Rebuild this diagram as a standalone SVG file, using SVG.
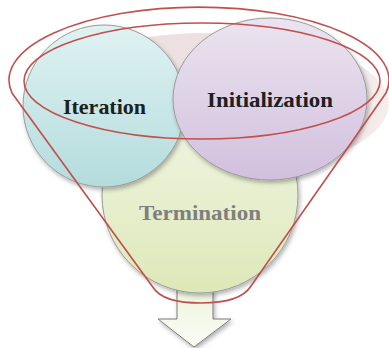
<svg xmlns="http://www.w3.org/2000/svg" width="389" height="348" viewBox="0 0 389 348">
<defs>
<linearGradient id="gIter" x1="0" y1="0" x2="0" y2="1"><stop offset="0" stop-color="#e0f2f2"/><stop offset="1" stop-color="#b4dcdd"/></linearGradient>
<linearGradient id="gInit" x1="0" y1="0" x2="0" y2="1"><stop offset="0" stop-color="#ebe4ef"/><stop offset="1" stop-color="#d2c0de"/></linearGradient>
<linearGradient id="gTerm" x1="0" y1="0" x2="0" y2="1"><stop offset="0" stop-color="#f2f6e6"/><stop offset="1" stop-color="#dde8b8"/></linearGradient>
<linearGradient id="gArrow" x1="0" y1="0" x2="0" y2="1"><stop offset="0" stop-color="#eef4dd"/><stop offset="1" stop-color="#fbfdf6"/></linearGradient>
<linearGradient id="gBack" x1="0" y1="0" x2="1" y2="0"><stop offset="0" stop-color="#ecdede"/><stop offset="0.85" stop-color="#efe3e3"/><stop offset="1" stop-color="#f6eeee"/></linearGradient>
<filter id="sh" x="-20%" y="-20%" width="140%" height="140%"><feDropShadow dx="1.5" dy="2.5" stdDeviation="2" flood-color="#000" flood-opacity="0.3"/></filter>
</defs>
<style>
.node{stroke:#9a9a9a;stroke-width:1;filter:url(#sh)}
.lbl{font-family:"Liberation Serif","Times New Roman",serif;font-weight:bold;font-size:22px;text-anchor:middle}
.dark{fill:#202020}
.gray{fill:#7f7f7f}
.rim{fill:none;stroke:#c0504d;stroke-width:1.6}
</style>
<ellipse cx="208" cy="104" rx="181" ry="71" fill="url(#gBack)"/>
<g id="connectors">
<polygon points="177,290 213,290 213,319 231,319 194,347 158,319 177,319" fill="url(#gArrow)" stroke="#7a7a7a" stroke-width="1" filter="url(#sh)"/>
</g>
<g id="termination">
<circle class="node" cx="200" cy="195" r="98" fill="url(#gTerm)"/>
</g>
<g id="iteration">
<ellipse class="node" cx="104" cy="106" rx="81" ry="81" fill="url(#gIter)"/>
</g>
<g id="initialization">
<ellipse class="node" cx="270" cy="99" rx="97" ry="81" fill="url(#gInit)"/>
</g>
<g id="funnel">
<path d="M12,93 A190,73 0 1 1 386,93 L251,286 C243,299 225,303 201,303 C177,303 160,299 152,286 Z" fill="#ffffff" fill-opacity="0.33" class="rim"/>
<ellipse cx="202" cy="81" rx="178" ry="58" class="rim"/>
</g>
<g id="labels">
<text class="lbl dark" x="104.5" y="114" textLength="83" lengthAdjust="spacingAndGlyphs">Iteration</text>
<text class="lbl dark" x="270" y="107" textLength="126" lengthAdjust="spacingAndGlyphs">Initialization</text>
<text class="lbl gray" x="200" y="220" textLength="122" lengthAdjust="spacingAndGlyphs">Termination</text>
</g>
</svg>
